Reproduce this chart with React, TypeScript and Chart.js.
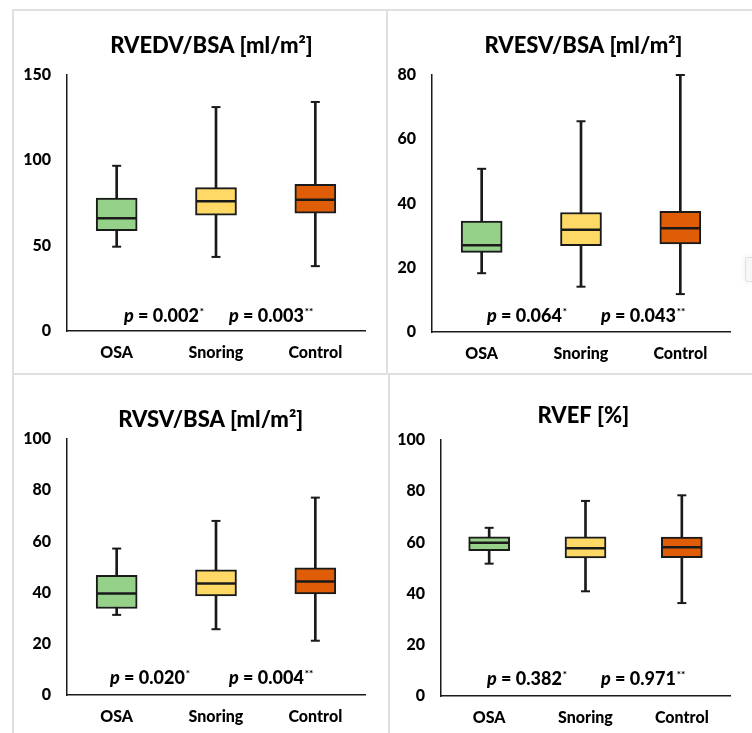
import React, { useEffect, useRef } from 'react';
import { Chart, registerables } from 'chart.js';

Chart.register(...registerables);

// ---------- data ----------
const CATEGORIES = ['OSA', 'Snoring', 'Control'];
const BOX_COLORS = ['#96D18A', '#FFD966', '#E05D07'];

const RVEDV_MIN = [49.4, 43.4, 38.0];
const RVEDV_Q1 = [58.8, 67.8, 69.1];
const RVEDV_MED = [66.0, 76.0, 76.9];
const RVEDV_Q3 = [77.9, 84.0, 85.9];
const RVEDV_MAX = [96.8, 131.2, 134.2];
const RVEDV_P = ['0.002', '0.003'];

const RVESV_MIN = [18.3, 14.1, 11.8];
const RVESV_Q1 = [24.8, 26.9, 27.4];
const RVESV_MED = [27.0, 31.8, 32.3];
const RVESV_Q3 = [34.5, 37.2, 37.6];
const RVESV_MAX = [50.8, 65.6, 80.0];
const RVESV_P = ['0.064', '0.043'];

const RVSV_MIN = [31.3, 25.7, 21.2];
const RVSV_Q1 = [33.8, 38.7, 39.5];
const RVSV_MED = [39.6, 43.6, 44.3];
const RVSV_Q3 = [46.7, 48.9, 49.7];
const RVSV_MAX = [57.2, 68.0, 77.1];
const RVSV_P = ['0.020', '0.004'];

const RVEF_MIN = [51.7, 40.9, 36.3];
const RVEF_Q1 = [56.8, 53.9, 54.0];
const RVEF_MED = [59.9, 57.7, 58.1];
const RVEF_Q3 = [62.2, 62.2, 62.1];
const RVEF_MAX = [65.7, 76.2, 78.4];
const RVEF_P = ['0.382', '0.971'];

// ---------- layout / style ----------
const FONT = 'Lato, "Open Sans", sans-serif';
const WEIGHT = '900';
const INK = '#1a1a1a';
const X_AXIS_H = 30;

type Rect = { x: number; y: number; w: number; h: number };
type Area = { l: number; t: number; r: number; b: number };

interface PanelSpec {
  title: string;
  min: number[];
  q1: number[];
  med: number[];
  q3: number[];
  max: number[];
  p: string[];
  yMax: number;
  yStep: number;
  canvas: Rect;
  area: Area;
  titleX: number;
  titleY: number;
  pX: number[];
  pY: number;
}

const PANELS: PanelSpec[] = [
  {
    title: 'RVEDV/BSA [ml/m²]',
    min: RVEDV_MIN, q1: RVEDV_Q1, med: RVEDV_MED, q3: RVEDV_Q3, max: RVEDV_MAX, p: RVEDV_P,
    yMax: 150, yStep: 50,
    canvas: { x: 14, y: 11, w: 373, h: 362 },
    area: { l: 67, t: 75, r: 368, b: 331 },
    titleX: 211.5, titleY: 53, pX: [124, 229], pY: 321.5,
  },
  {
    title: 'RVESV/BSA [ml/m²]',
    min: RVESV_MIN, q1: RVESV_Q1, med: RVESV_MED, q3: RVESV_Q3, max: RVESV_MAX, p: RVESV_P,
    yMax: 80, yStep: 20,
    canvas: { x: 389, y: 11, w: 363, h: 362 },
    area: { l: 432, t: 75, r: 743, b: 332 },
    titleX: 583.5, titleY: 53, pX: [487, 601], pY: 322,
  },
  {
    title: 'RVSV/BSA [ml/m²]',
    min: RVSV_MIN, q1: RVSV_Q1, med: RVSV_MED, q3: RVSV_Q3, max: RVSV_MAX, p: RVSV_P,
    yMax: 100, yStep: 20,
    canvas: { x: 14, y: 375, w: 373, h: 358 },
    area: { l: 67, t: 439, r: 368, b: 695 },
    titleX: 210.7, titleY: 427, pX: [110, 229], pY: 684,
  },
  {
    title: 'RVEF [%]',
    min: RVEF_MIN, q1: RVEF_Q1, med: RVEF_MED, q3: RVEF_Q3, max: RVEF_MAX, p: RVEF_P,
    yMax: 100, yStep: 20,
    canvas: { x: 389, y: 375, w: 363, h: 358 },
    area: { l: 441, t: 440, r: 743, b: 696 },
    titleX: 583.3, titleY: 422.5, pX: [487, 601], pY: 684.5,
  },
];

const annotPlugin = {
  id: 'annot',
  afterDraw(chart: any, _args: any, opts: any) {
    const ctx = chart.ctx as CanvasRenderingContext2D;
    ctx.save();
    ctx.fillStyle = '#000';
    ctx.textBaseline = 'alphabetic';
    ctx.textAlign = 'center';
    ctx.font = `${WEIGHT} 22px ${FONT}`;
    ctx.fillText(opts.title, opts.titleX, opts.titleY);

    ctx.textAlign = 'left';
    (opts.pTexts as string[]).forEach((val, i) => {
      let x = opts.pX[i];
      const y = opts.pY;
      ctx.font = `italic ${WEIGHT} 18px ${FONT}`;
      ctx.fillText('p', x, y);
      x += ctx.measureText('p').width;
      ctx.font = `${WEIGHT} 18px ${FONT}`;
      const main = ' = ' + val;
      ctx.fillText(main, x, y);
      x += ctx.measureText(main).width + 1;
      ctx.font = `${WEIGHT} 10px ${FONT}`;
      ctx.fillText(i === 0 ? '*' : '**', x, y - 7);
    });
    ctx.restore();
  },
};

function Panel({ spec }: { spec: PanelSpec }) {
  const ref = useRef<HTMLCanvasElement | null>(null);

  useEffect(() => {
    if (!ref.current) return;
    const c = spec.canvas;
    const a = spec.area;
    const yAxisW = a.l - c.x;
    const padT = a.t - c.y;
    const padR = c.x + c.w - a.r;
    const padB = c.y + c.h - a.b - X_AXIS_H;

    const tickFont = { family: FONT, weight: WEIGHT as any, size: 16 };

    const chart = new Chart(ref.current, {
      type: 'bar',
      data: {
        labels: CATEGORIES,
        datasets: [
          {
            type: 'bar',
            data: CATEGORIES.map((_, i) => [spec.min[i], spec.max[i]]) as any,
            backgroundColor: INK,
            borderWidth: 0,
            barThickness: 2,
            grouped: false,
            order: 4,
            clip: false as any,
          },
          {
            type: 'bar',
            data: CATEGORIES.map((_, i) => [spec.q1[i], spec.q3[i]]) as any,
            backgroundColor: BOX_COLORS,
            borderColor: INK,
            borderWidth: 2,
            borderSkipped: false,
            barThickness: 41,
            grouped: false,
            order: 3,
            clip: false as any,
          },
          {
            type: 'line',
            data: spec.med,
            showLine: false,
            pointStyle: 'line',
            pointRadius: 19.5,
            pointBorderWidth: 2.5,
            pointBorderColor: INK,
            pointBackgroundColor: INK,
            order: 1,
            clip: false as any,
          },
          {
            type: 'line',
            data: spec.max,
            showLine: false,
            pointStyle: 'line',
            pointRadius: 4.5,
            pointBorderWidth: 2,
            pointBorderColor: INK,
            pointBackgroundColor: INK,
            order: 1,
            clip: false as any,
          },
          {
            type: 'line',
            data: spec.min,
            showLine: false,
            pointStyle: 'line',
            pointRadius: 4.5,
            pointBorderWidth: 2,
            pointBorderColor: INK,
            pointBackgroundColor: INK,
            order: 1,
            clip: false as any,
          },
        ],
      },
      options: {
        animation: false,
        responsive: false,
        devicePixelRatio: 1,
        events: [],
        layout: { padding: { left: 0, top: padT, right: padR, bottom: padB } },
        plugins: {
          legend: { display: false },
          tooltip: { enabled: false },
          title: { display: false },
          annot: {
            title: spec.title,
            titleX: spec.titleX - c.x,
            titleY: spec.titleY - c.y,
            pTexts: spec.p,
            pX: spec.pX.map((v) => v - c.x),
            pY: spec.pY - c.y,
          },
        } as any,
        scales: {
          x: {
            type: 'category',
            offset: true,
            grid: { display: false, drawTicks: false },
            border: { display: true, color: INK, width: 1.5 },
            ticks: { color: '#000', font: tickFont, padding: 12, maxRotation: 0 },
            afterFit: (s: any) => {
              s.height = X_AXIS_H;
            },
          },
          y: {
            type: 'linear',
            min: 0,
            max: spec.yMax,
            grid: { display: false, drawTicks: false },
            border: { display: true, color: INK, width: 1.5 },
            ticks: { color: '#000', font: tickFont, stepSize: spec.yStep, padding: 16 },
            afterFit: (s: any) => {
              s.width = yAxisW;
            },
          },
        },
      },
      plugins: [annotPlugin as any],
    });

    return () => {
      chart.destroy();
    };
  }, [spec]);

  const c = spec.canvas;
  return (
    <canvas
      ref={ref}
      width={c.w}
      height={c.h}
      style={{ position: 'absolute', left: c.x, top: c.y, width: c.w, height: c.h }}
    />
  );
}

const LINE = '#e0e0e0';

export default function App() {
  return (
    <div style={{ position: 'absolute', left: 0, top: 0, width: 752, height: 733, background: '#fff', overflow: 'hidden' }}>
      {/* panel frame lines */}
      <div style={{ position: 'absolute', left: 13, top: 9, width: 739, height: 2, background: LINE }} />
      <div style={{ position: 'absolute', left: 13, top: 373, width: 739, height: 2, background: LINE }} />
      <div style={{ position: 'absolute', left: 12, top: 9, width: 2, height: 724, background: LINE }} />
      <div style={{ position: 'absolute', left: 386, top: 9, width: 2, height: 365, background: LINE }} />
      <div style={{ position: 'absolute', left: 388, top: 374, width: 2, height: 359, background: LINE }} />
      {/* small scroll button artifact on the right edge */}
      <div
        style={{
          position: 'absolute', left: 745, top: 257, width: 10, height: 23,
          background: '#f7f7f7', border: '1px solid #e2e2e2', borderRadius: 2,
          boxShadow: '0 0 6px rgba(0,0,0,0.08)',
        }}
      />
      {PANELS.map((p, i) => (
        <Panel key={i} spec={p} />
      ))}
    </div>
  );
}
